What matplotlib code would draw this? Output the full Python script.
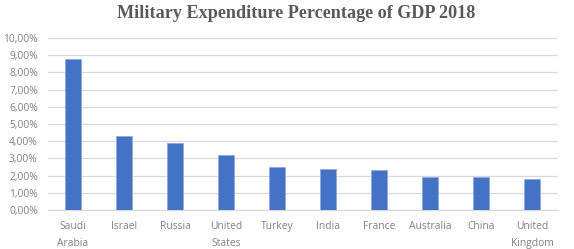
import matplotlib
matplotlib.use("Agg")
import matplotlib.pyplot as plt
from matplotlib.ticker import FuncFormatter

# military spending as % of GDP, 2018
countries = ["Saudi\nArabia", "Israel", "Russia", "United\nStates", "Turkey",
             "India", "France", "Australia", "China", "United\nKingdom"]
pct_gdp = [8.8, 4.3, 3.9, 3.2, 2.5, 2.4, 2.3, 1.9, 1.9, 1.8]
yticks = [0, 1, 2, 3, 4, 5, 6, 7, 8, 9, 10]

fig = plt.figure(figsize=(5.74, 2.49), dpi=100)
ax = fig.add_axes([47.5 / 574, 1 - 210 / 249, 510 / 574, 172 / 249])

ax.bar(range(len(countries)), pct_gdp, width=0.33, color="#4472c4",
       edgecolor="#8faadc", linewidth=0.6, zorder=3)

ax.set_xlim(-0.5, len(countries) - 0.5)
ax.set_ylim(0, 10)
ax.set_yticks(yticks)
ax.yaxis.set_major_formatter(FuncFormatter(lambda v, p: f"{v:.2f}%".replace(".", ",")))
ax.set_xticks(range(len(countries)))
ax.set_xticklabels(countries, linespacing=1.75)

ax.grid(axis="y", color="#d9d9d9", linewidth=0.9, zorder=0)
for s in ["top", "right", "left"]:
    ax.spines[s].set_visible(False)
ax.spines["bottom"].set_color("#d9d9d9")
ax.spines["bottom"].set_linewidth(0.9)
ax.tick_params(length=0, colors="#808080", labelsize=7.4)
for lbl in ax.get_xticklabels() + ax.get_yticklabels():
    lbl.set_family("Open Sans")
    lbl.set_color("#808080")
ax.tick_params(axis="x", pad=8)
ax.tick_params(axis="y", pad=7)

fig.text(296 / 574, 1 - 14 / 249, "Military Expenditure Percentage of GDP 2018",
         ha="center", va="center", family="Liberation Serif", weight="bold",
         fontsize=13.1, color="#595959")

fig.savefig("out.png", dpi=100)
